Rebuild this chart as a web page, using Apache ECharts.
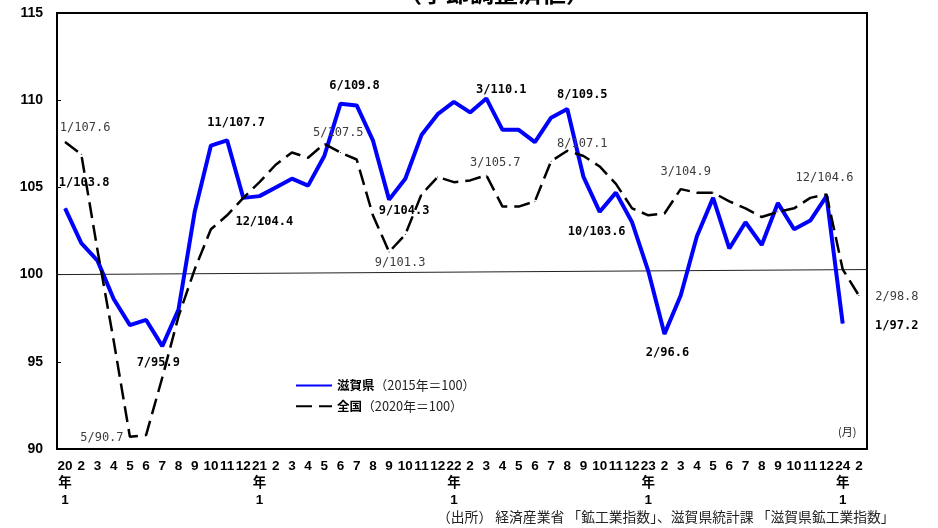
<!DOCTYPE html>
<html>
<head>
<meta charset="utf-8">
<script src="https://cdn.jsdelivr.net/npm/echarts@6/dist/echarts.min.js"></script>
<style>
  html, body { margin: 0; padding: 0; background: #fff; }
  #chart { width: 938px; height: 528px; }
</style>
</head>
<body>
<div id="chart"></div>
<script>
// Monthly categories, Jan 2020 – Feb 2024
const categories = [
  '20/1','20/2','20/3','20/4','20/5','20/6','20/7','20/8','20/9','20/10','20/11','20/12',
  '21/1','21/2','21/3','21/4','21/5','21/6','21/7','21/8','21/9','21/10','21/11','21/12',
  '22/1','22/2','22/3','22/4','22/5','22/6','22/7','22/8','22/9','22/10','22/11','22/12',
  '23/1','23/2','23/3','23/4','23/5','23/6','23/7','23/8','23/9','23/10','23/11','23/12',
  '24/1','24/2'
];

// 滋賀県 (2015年=100), Jan 2020 – Jan 2024
const shigaIndex = [
  103.8, 101.8, 100.8, 98.6, 97.1, 97.4, 95.9, 98.0, 103.6, 107.4, 107.7, 104.4,
  104.5, 105.0, 105.5, 105.1, 106.8, 109.8, 109.7, 107.7, 104.3, 105.5, 108.0, 109.2,
  109.9, 109.3, 110.1, 108.3, 108.3, 107.6, 109.0, 109.5, 105.6, 103.6, 104.7, 103.0,
  100.2, 96.6, 98.8, 102.2, 104.4, 101.5, 103.0, 101.7, 104.1, 102.6, 103.1, 104.5,
  97.2, null
];

// 全国 (2020年=100), Jan 2020 – Feb 2024
const nationalIndex = [
  107.6, 106.9, 101.4, 96.2, 90.7, 90.8, 94.1, 97.6, 100.3, 102.6, 103.4, 104.4,
  105.3, 106.3, 107.0, 106.7, 107.5, 107.0, 106.6, 103.4, 101.3, 102.3, 104.6, 105.6,
  105.3, 105.4, 105.7, 103.9, 103.9, 104.2, 106.5, 107.1, 106.8, 106.2, 105.2, 103.8,
  103.4, 103.5, 104.9, 104.7, 104.7, 104.2, 103.8, 103.3, 103.6, 103.8, 104.4, 104.6,
  100.3, 98.8
];

// Value-axis ticks
const yTicks = { min: 90, max: 115, step: 5 };

// Guide line across the plot near 100 (start/end values)
const guideLine = [100, 100.29];

// Which points carry a "month/value" callout, and where the text sits relative to the point
const shigaCallouts = {
  0: [19, -25], 6: [-4, 17], 10: [9, -17], 11: [21, 24], 17: [14, -18], 20: [15, 11],
  26: [15, -9], 31: [15, -14], 33: [-3, 20], 37: [3, 19], 48: [54, 2]
};
const nationalCallouts = {
  0: [20, -14], 4: [-28, 1], 16: [14, -11], 20: [11, 11], 26: [9, -12],
  31: [15, -7], 38: [5, -17], 47: [-2, -17], 49: [38, 1.5]
};

const monoFont = '"DejaVu Sans Mono", "Liberation Mono", monospace';
const cjkFont = '"Noto Sans CJK JP", "Noto Sans", sans-serif';
const axisFont = '"Liberation Sans", Arial, "Noto Sans CJK JP", sans-serif';

function withCallouts(values, callouts, labelStyle) {
  return values.map((v, i) => {
    const off = callouts[i];
    if (!off || v == null) return v;
    return {
      value: v,
      label: Object.assign({
        show: true,
        position: 'inside',
        offset: off,
        align: 'center',
        verticalAlign: 'middle',
        formatter: categories[i].split('/')[1] + '/' + v.toFixed(1)
      }, labelStyle)
    };
  });
}

const chart = echarts.init(document.getElementById('chart'), null, { renderer: 'canvas' });

chart.setOption({
  animation: false,
  backgroundColor: '#ffffff',
  grid: {
    left: 57, top: 13, width: 810, height: 436,
    show: true, borderColor: '#000', borderWidth: 2, backgroundColor: 'transparent'
  },
  legend: {
    orient: 'vertical',
    left: 290,
    top: 374,
    itemWidth: 36,
    itemHeight: 14,
    itemGap: 8,
    itemStyle: { opacity: 0 },
    data: ['滋賀県', '全国'],
    formatter: function (name) {
      return name === '滋賀県'
        ? '{b|滋賀県}{n|（2015年＝100）}'
        : '{b|全国}{n|（2020年＝100）}';
    },
    textStyle: {
      color: '#000',
      rich: {
        b: { fontFamily: cjkFont, fontWeight: 'bold', fontSize: 12.5, color: '#000' },
        n: { fontFamily: cjkFont, fontSize: 12.8, color: '#222' }
      }
    }
  },
  xAxis: [
    {
      type: 'category',
      data: categories,
      boundaryGap: true,
      axisLine: { lineStyle: { color: '#000', width: 2 } },
      axisTick: { inside: true, length: 4, lineStyle: { color: '#000', width: 1 } },
      axisLabel: {
        interval: 0,
        margin: 9,
        color: '#000',
        fontFamily: axisFont,
        fontWeight: 'bold',
        fontSize: 13.5,
        lineHeight: 17,
        formatter: function (val) {
          const parts = val.split('/');
          return parts[1] === '1' ? parts[0] + '\n年\n1' : parts[1];
        }
      },
      splitLine: { show: false }
    },
    {
      type: 'value',
      min: 0, max: 1,
      show: false
    }
  ],
  yAxis: {
    type: 'value',
    min: yTicks.min,
    max: yTicks.max,
    interval: yTicks.step,
    axisLine: { show: true, lineStyle: { color: '#000', width: 2 } },
    axisTick: { show: true, inside: true, length: 4, lineStyle: { color: '#000', width: 1 } },
    axisLabel: {
      margin: 14,
      color: '#000',
      fontFamily: axisFont,
      fontWeight: 'bold',
      fontSize: 14
    },
    splitLine: { show: false }
  },
  series: [
    {
      name: 'guide',
      type: 'line',
      xAxisIndex: 1,
      data: [[0, guideLine[0]], [1, guideLine[1]]],
      symbol: 'none',
      silent: true,
      lineStyle: { color: '#222', width: 1 },
      z: 1
    },
    {
      name: '滋賀県',
      type: 'line',
      data: withCallouts(shigaIndex, shigaCallouts, {
        fontFamily: monoFont, fontWeight: 'bold', fontSize: 12, color: '#000'
      }),
      symbol: 'circle',
      symbolSize: 1,
      showAllSymbol: true,
      itemStyle: { color: '#0000ff' },
      lineStyle: { color: '#0000ff', width: 4 },
      z: 3
    },
    {
      name: '全国',
      type: 'line',
      data: withCallouts(nationalIndex, nationalCallouts, {
        fontFamily: monoFont, fontSize: 12, color: '#3c3c3c'
      }),
      symbol: 'circle',
      symbolSize: 1,
      showAllSymbol: true,
      itemStyle: { color: '#000' },
      lineStyle: { color: '#000', width: 2.5, type: [16, 7] },
      z: 4
    }
  ],
  graphic: [
    {
      type: 'text',
      left: 398,
      top: -19,
      style: {
        text: '（季節調整済値）',
        font: 'bold 24px "Noto Sans CJK JP", sans-serif',
        fill: '#000'
      }
    },
    {
      type: 'text',
      left: 838,
      top: 426,
      style: {
        text: '(月)',
        font: '11px "Noto Sans CJK JP", sans-serif',
        fill: '#222'
      }
    },
    {
      type: 'text',
      left: 437,
      top: 510,
      style: {
        text: '（出所） 経済産業省 「鉱工業指数」、滋賀県統計課 「滋賀県鉱工業指数」',
        font: '13.8px "Noto Sans CJK JP", sans-serif',
        fill: '#222'
      }
    }
  ]
});
</script>
</body>
</html>
